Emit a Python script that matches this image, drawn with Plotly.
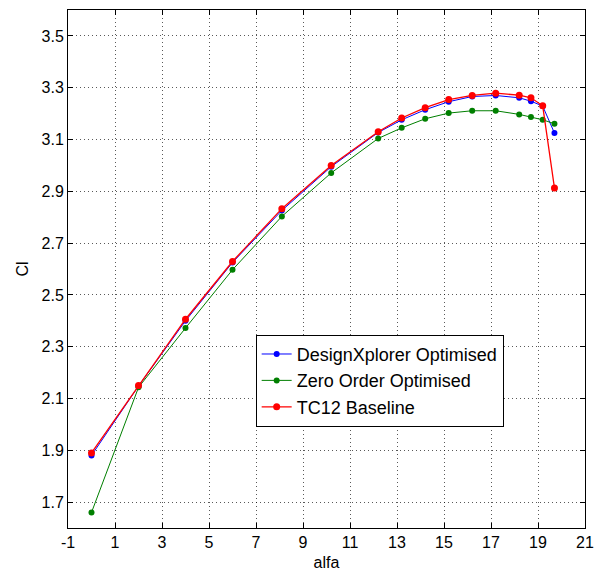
import plotly.graph_objects as go

alfa = [0, 2, 4, 6, 8.1, 10.2, 12.2, 13.2, 14.2, 15.2, 16.2, 17.2, 18.2, 18.7, 19.2, 19.7]
cl_designxplorer = [1.880, 2.148, 2.400, 2.625, 2.826, 2.995, 3.127, 3.176, 3.215, 3.246, 3.266, 3.270, 3.261, 3.248, 3.229, 3.125]
cl_zero_order = [1.660, 2.143, 2.372, 2.597, 2.803, 2.971, 3.104, 3.145, 3.180, 3.202, 3.211, 3.211, 3.197, 3.187, 3.176, 3.161]
cl_tc12 = [1.890, 2.150, 2.406, 2.629, 2.833, 3.000, 3.130, 3.183, 3.223, 3.254, 3.270, 3.279, 3.271, 3.261, 3.230, 2.913]

x_ticks = [-1, 1, 3, 5, 7, 9, 11, 13, 15, 17, 19, 21]
x_ticklabels = ["-1", "1", "3", "5", "7", "9", "11", "13", "15", "17", "19", "21"]
y_ticks = [1.7, 1.9, 2.1, 2.3, 2.5, 2.7, 2.9, 3.1, 3.3, 3.5]
y_ticklabels = ["1.7", "1.9", "2.1", "2.3", "2.5", "2.7", "2.9", "3.1", "3.3", "3.5"]

font = "Liberation Sans, Arial, Helvetica, sans-serif"

fig = go.Figure()
fig.add_trace(go.Scatter(x=alfa, y=cl_designxplorer, mode="lines+markers",
                         name="DesignXplorer Optimised",
                         line=dict(color="#0000FF", width=1),
                         marker=dict(color="#0000FF", size=6)))
fig.add_trace(go.Scatter(x=alfa, y=cl_zero_order, mode="lines+markers",
                         name="Zero Order Optimised",
                         line=dict(color="#007F00", width=1),
                         marker=dict(color="#007F00", size=6)))
fig.add_trace(go.Scatter(x=alfa, y=cl_tc12, mode="lines+markers",
                         name="TC12 Baseline",
                         line=dict(color="#FF0000", width=1.3),
                         marker=dict(color="#FF0000", size=7)))

axis_common = dict(
    showline=True, linecolor="#000000", linewidth=1, mirror="ticks",
    ticks="inside", ticklen=5, tickcolor="#000000",
    showgrid=True, gridcolor="rgba(0,0,0,0.65)", griddash="1px,3px", gridwidth=1,
    zeroline=False,
    tickfont=dict(family=font, size=16, color="#000000"),
)

fig.update_layout(
    width=606, height=575,
    margin=dict(l=60, r=29, t=2, b=55),
    paper_bgcolor="#FFFFFF", plot_bgcolor="#FFFFFF",
    font=dict(family=font, size=16, color="#000000"),
    xaxis=dict(range=[-1, 21], tickvals=x_ticks, ticktext=x_ticklabels,
               title=dict(text="alfa", font=dict(family=font, size=16), standoff=6),
               **axis_common),
    yaxis=dict(range=[1.6, 3.6], tickvals=y_ticks, ticktext=y_ticklabels,
               title=dict(text="Cl", font=dict(family=font, size=16), standoff=8),
               **axis_common),
    legend=dict(x=0.363, y=0.373, xanchor="left", yanchor="top",
                bgcolor="#FFFFFF", bordercolor="#000000", borderwidth=1,
                font=dict(family=font, size=18, color="#000000"),
                tracegroupgap=0, itemwidth=30),
    showlegend=True,
)

fig.write_html("out.html")
